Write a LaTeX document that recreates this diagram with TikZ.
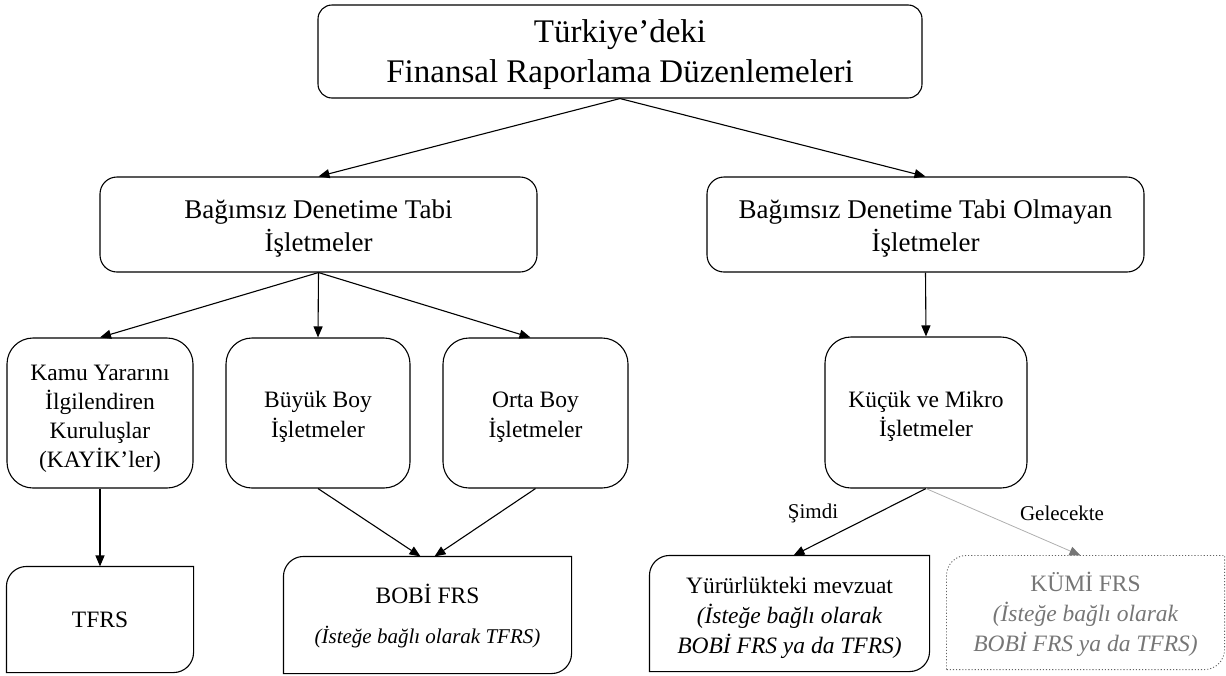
\documentclass[tikz,border=0pt]{standalone}
\usepackage{fontspec}
\setmainfont{Liberation Serif}
\usetikzlibrary{arrows.meta}
\definecolor{kgray}{RGB}{118,118,118}
\definecolor{dgray}{RGB}{100,100,100}
\definecolor{lgray}{RGB}{175,175,175}
\newcommand\diagframe[3][]{%
 \draw[line width=1.1pt,#1] (#2.south west) -- ([yshift=-#3]#2.north west)
   .. controls ([yshift=-0.45*#3]#2.north west) and ([xshift=0.45*#3]#2.north west) .. ([xshift=#3]#2.north west)
   -- (#2.north east) -- ([yshift=#3]#2.south east)
   .. controls ([yshift=0.45*#3]#2.south east) and ([xshift=-0.45*#3]#2.south east) .. ([xshift=-#3]#2.south east)
   -- cycle;}
\begin{document}
\begin{tikzpicture}[x=1pt,y=-1pt,
  conn/.style={line width=1.1pt, -{Triangle[length=11pt,width=9pt]}},
  basebox/.style={inner sep=0pt, line width=1.1pt},
  txt/.style={align=center, inner sep=0pt},
  topbox/.style={basebox, draw, rounded corners=14pt, minimum width=604pt, minimum height=93pt},
  midbox/.style={basebox, draw, rounded corners=17pt, minimum width=437pt, minimum height=95pt},
  tallbox/.style={basebox, draw, rounded corners=26pt, minimum height=150pt},
  toptxt/.style={txt, font=\fontsize{33}{40}\selectfont},
  midtxt/.style={txt, font=\fontsize{27}{33}\selectfont},
  talltxt/.style={txt, font=\fontsize{23.5}{29}\selectfont},
  endtxt/.style={txt, font=\fontsize{23.5}{30}\selectfont},
  lbl/.style={font=\fontsize{21}{25}\selectfont, inner sep=0pt}
]
\useasboundingbox (0,0) rectangle (1226,675);

\node[topbox] (top) at (620,51.5) {};
\node[toptxt] (top-t) at (620,55) {Türkiye’deki\\Finansal Raporlama Düzenlemeleri};
\node[midbox] (ml) at (318.5,224.5) {};
\node[midtxt] (ml-t) at (318.5,229) {Bağımsız Denetime Tabi\\İşletmeler};
\node[midbox] (mr) at (925.5,224.5) {};
\node[midtxt] (mr-t) at (925.5,229) {Bağımsız Denetime Tabi Olmayan\\İşletmeler};

\node[tallbox, minimum width=186pt] (kayik) at (100,413) {};
\node[talltxt] (kayik-t) at (100,419) {Kamu Yararını\\İlgilendiren\\Kuruluşlar\\(KAYİK’ler)};
\node[tallbox, minimum width=184pt] (buyuk) at (318,413) {};
\node[talltxt, font=\fontsize{23.5}{30}\selectfont] (buyuk-t) at (318,417) {Büyük Boy\\İşletmeler};
\node[tallbox, minimum width=185pt] (orta) at (535.5,413) {};
\node[talltxt, font=\fontsize{23.5}{30}\selectfont] (orta-t) at (535.5,417) {Orta Boy\\İşletmeler};
\node[tallbox, minimum width=202pt, minimum height=151pt] (kucuk) at (926,412.5) {};
\node[talltxt] (kucuk-t) at (926,416.5) {Küçük ve Mikro\\İşletmeler};

\node[basebox, minimum width=186pt, minimum height=105pt] (tfrs) at (100,619.5) {};
\node[endtxt] (tfrs-t) at (100,620) {TFRS};
\diagframe{tfrs}{20pt}
\node[basebox, minimum width=287pt, minimum height=116pt] (bobi) at (427.5,615) {};
\node[endtxt] (bobi-t) at (427.5,616)
  {BOBİ FRS\\[10pt]{\fontsize{21}{25}\selectfont\itshape (İsteğe bağlı olarak TFRS)}};
\diagframe{bobi}{20pt}
\node[basebox, minimum width=279pt, minimum height=115pt] (yur) at (789.5,613.5) {};
\node[endtxt] (yur-t) at (789.5,618)
  {Yürürlükteki mevzuat\\{\itshape (İsteğe bağlı olarak}\\{\itshape BOBİ FRS ya da TFRS)}};
\diagframe{yur}{20pt}
\node[basebox, minimum width=277pt, minimum height=113pt] (kumi) at (1085.5,612.5) {};
\node[endtxt, text=kgray] (kumi-t) at (1085.5,614)
  {KÜMİ FRS\\{\itshape (İsteğe bağlı olarak}\\{\itshape BOBİ FRS ya da TFRS)}};
\diagframe[dgray, dotted, line width=0.9pt]{kumi}{20pt}

\draw[conn] (top.south) -- (ml.north);
\draw[conn] (top.south) -- (mr.north);
\draw[conn] (ml.south) -- (kayik.north);
\draw[conn] (ml.south) -- (buyuk.north);
\draw[conn] (ml.south) -- ([xshift=-5pt]orta.north);
\draw[conn] (mr.south) -- (kucuk.north);
\draw[conn] (kayik.south) -- (tfrs.north);
\draw[conn] (buyuk.south) -- ([xshift=-7pt]bobi.north);
\draw[conn] (orta.south) -- ([xshift=7pt]bobi.north);
\draw[conn] (kucuk.south) -- ([xshift=4pt]yur.north);
\draw[lgray, line width=0.8pt, -{Triangle[length=11pt,width=9pt,color=kgray]}] (kucuk.south) -- ([xshift=-5pt]kumi.north);

\node[lbl] (simdi) at (813,513) {Şimdi};
\node[lbl] (gel) at (1062,513) {Gelecekte};
\end{tikzpicture}
\end{document}
